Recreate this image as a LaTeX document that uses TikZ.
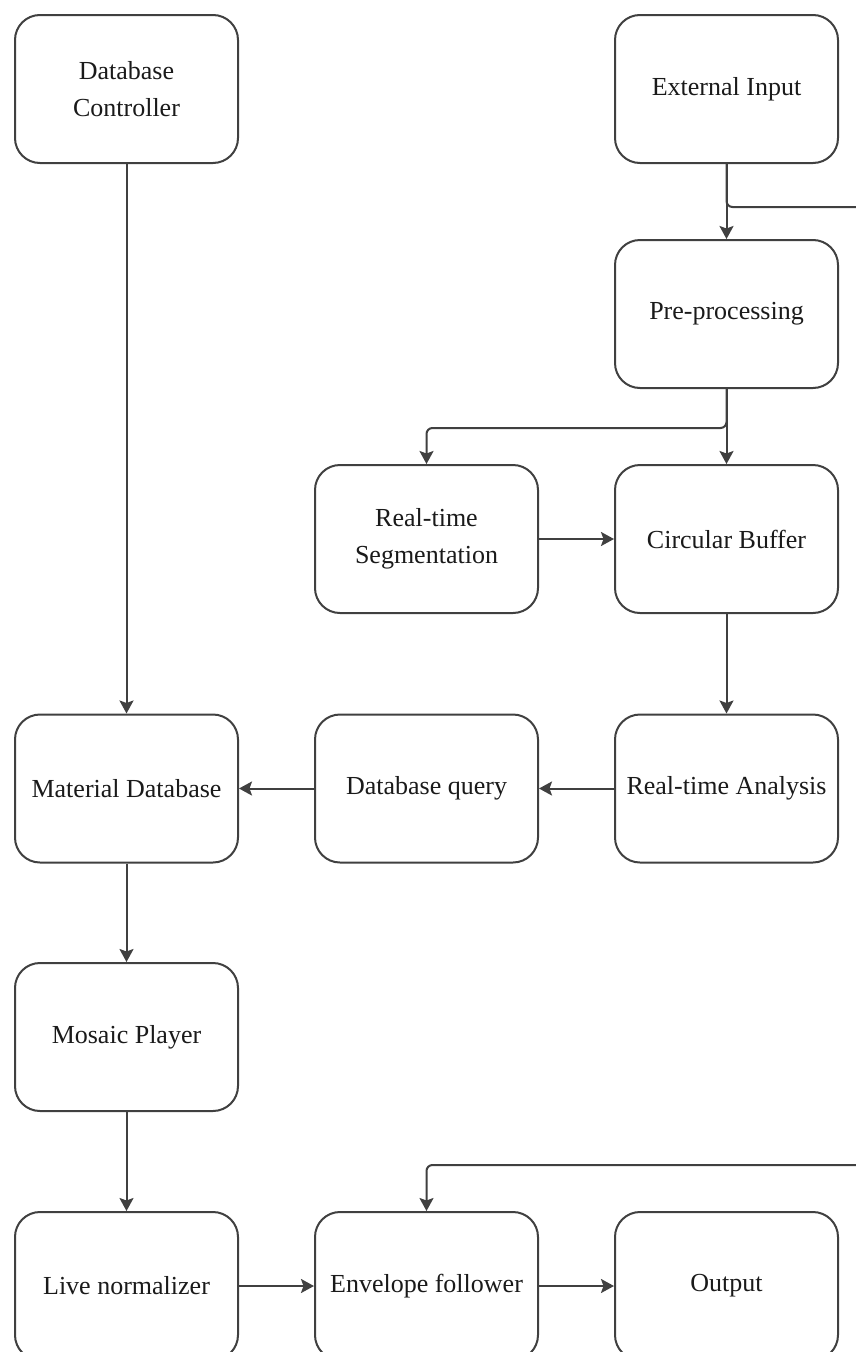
\documentclass[tikz,border=0pt]{standalone}
\usepackage{fontspec}
\setmainfont{Liberation Serif}
\usetikzlibrary{arrows.meta}

\definecolor{edge}{HTML}{404040}
\definecolor{ink}{HTML}{1a1a1a}

\tikzset{
  block/.style={draw=edge, line width=2pt, rounded corners=25pt,
    minimum width=223pt, minimum height=148pt, align=center,
    text=ink, font=\fontsize{26}{37}\selectfont, inner sep=0pt},
  flow/.style={draw=edge, line width=2pt,
    -{Stealth[length=13pt, width=14pt, inset=2.5pt]}},
  tap/.style={draw=edge, line width=2pt, rounded corners=6pt}
}

\begin{document}
\begin{tikzpicture}[x=1pt, y=-1pt]
  \clip (0,0) rectangle (856,1352);
  \fill[white] (0,0) rectangle (856,1352);

  % processing blocks, three columns
  \node[block] (dbc)  at (126.5, 89)   {Database\\Controller};
  \node[block] (ext)  at (726.5, 89)   {External Input};
  \node[block] (pre)  at (726.5, 314)  {Pre-processing};
  \node[block] (seg)  at (426.5, 539)  {Real-time\\Segmentation};
  \node[block] (cb)   at (726.5, 539)  {Circular Buffer};
  \node[block] (mdb)  at (126.5, 788.5){Material Database};
  \node[block] (dbq)  at (426.5, 788.5){Database query};
  \node[block] (rta)  at (726.5, 788.5){Real-time Analysis};
  \node[block] (mos)  at (126.5, 1037) {Mosaic Player};
  \node[block] (live) at (126.5, 1286) {Live normalizer};
  \node[block] (env)  at (426.5, 1286) {Envelope follower};
  \node[block] (out)  at (726.5, 1286) {Output};

  % side branches leaving and entering at the right edge
  \coordinate (tapout) at (856, 207);
  \coordinate (tapin)  at (856, 1165);

  % signal flow
  \draw[flow] (dbc.south) -- (mdb.north);
  \draw[flow] (ext.south) -- (pre.north);
  \draw[tap]  (ext.south) |- (tapout);
  \draw[flow] (pre.south) -- (cb.north);
  \draw[flow, rounded corners=6pt] (pre.south) -- ++(0,39) -| (seg.north);
  \draw[flow] (seg.east) -- (cb.west);
  \draw[flow] (cb.south) -- (rta.north);
  \draw[flow] (rta.west) -- (dbq.east);
  \draw[flow] (dbq.west) -- (mdb.east);
  \draw[flow] (mdb.south) -- (mos.north);
  \draw[flow] (mos.south) -- (live.north);
  \draw[flow] (live.east) -- (env.west);
  \draw[flow] (env.east) -- (out.west);
  \draw[flow, rounded corners=6pt] (tapin) -| (env.north);
\end{tikzpicture}
\end{document}
